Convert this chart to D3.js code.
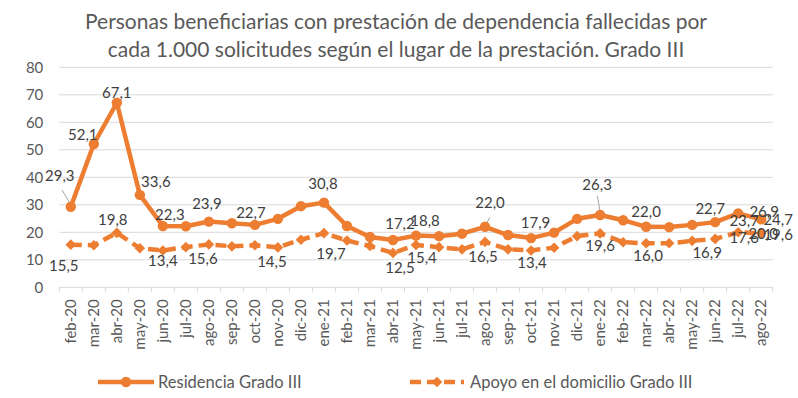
<!DOCTYPE html>
<html>
<head>
<meta charset="utf-8">
<script src="https://cdn.jsdelivr.net/npm/d3@7"></script>
<style>
  html, body { margin: 0; padding: 0; background: #fff; }
  svg { display: block; font-family: Lato, "Open Sans", sans-serif; }
</style>
</head>
<body>
<svg id="chart" width="798" height="398"></svg>
<script>
// Months (category axis)
const months = ["feb-20","mar-20","abr-20","may-20","jun-20","jul-20","ago-20","sep-20","oct-20","nov-20","dic-20",
  "ene-21","feb-21","mar-21","abr-21","may-21","jun-21","jul-21","ago-21","sep-21","oct-21","nov-21","dic-21",
  "ene-22","feb-22","mar-22","abr-22","may-22","jun-22","jul-22","ago-22"];

// Deaths per 1,000 applications — residential care, Grade III
const residencia = [29.3, 52.1, 67.1, 33.6, 22.3, 22.2, 23.9, 23.3, 22.7, 24.9, 29.5,
  30.8, 22.3, 18.3, 17.2, 18.8, 18.6, 19.5, 22.0, 19.0, 17.9, 19.9, 24.9,
  26.3, 24.4, 22.0, 21.9, 22.7, 23.7, 26.9, 24.7];

// Deaths per 1,000 applications — home support, Grade III
const apoyo = [15.5, 15.3, 19.8, 14.2, 13.4, 14.6, 15.6, 14.9, 15.3, 14.5, 17.3,
  19.7, 17.0, 15.0, 12.5, 15.4, 14.6, 13.8, 16.5, 13.8, 13.4, 14.4, 18.6,
  19.6, 16.4, 16.0, 16.0, 16.9, 17.6, 20.0, 19.6];

const yTicks = [0, 10, 20, 30, 40, 50, 60, 70, 80];

const seriesNames = ["Residencia Grado III", "Apoyo en el domicilio Grado III"];
const titleLines = ["Personas beneficiarias con prestación de dependencia fallecidas por",
  "cada 1.000  solicitudes según el lugar de la prestación. Grado III"];

// Which points carry a value label, and where the label sits relative to its point
const resLabelPos = [
  {i: 0, dx: -11, dy: -26, lead: [-8.8, -16.7, -0.3, -2.7]},
  {i: 1, dx: -11, dy: -4}, {i: 2, dx: 0, dy: -5}, {i: 3, dx: 16, dy: -8},
  {i: 4, dx: 7, dy: -6}, {i: 6, dx: -2, dy: -12.6}, {i: 8, dx: -4, dy: -6.6},
  {i: 11, dx: -1, dy: -14}, {i: 14, dx: 7, dy: -11}, {i: 15, dx: 9, dy: -10},
  {i: 18, dx: 5, dy: -19, lead: [4.4, -9.5, 1.1, -1.8]}, {i: 20, dx: 4.5, dy: -10},
  {i: 23, dx: -3, dy: -25, lead: [-2.7, -19, 0, -3.3]}, {i: 25, dx: 0, dy: -9.5},
  {i: 27, dx: 18, dy: -11}, {i: 28, dx: 29, dy: 3.6}, {i: 29, dx: 26, dy: 3.4}, {i: 30, dx: 17, dy: 6}
];
const apoLabelPos = [
  {i: 0, dx: -7, dy: 26}, {i: 2, dx: -4, dy: -8}, {i: 4, dx: 0, dy: 16},
  {i: 6, dx: -6, dy: 20}, {i: 9, dx: -6, dy: 20}, {i: 11, dx: 7, dy: 26},
  {i: 14, dx: 7, dy: 20}, {i: 15, dx: 6, dy: 18}, {i: 18, dx: -2, dy: 20},
  {i: 20, dx: 1, dy: 18}, {i: 23, dx: 0, dy: 18}, {i: 25, dx: 2, dy: 18},
  {i: 27, dx: 15, dy: 17.5}, {i: 28, dx: 29, dy: 4.4}, {i: 29, dx: 25, dy: 7}, {i: 30, dx: 17, dy: 6.6}
];

const ORANGE = "#ED7D31";
const GRID = "#D9D9D9";
const AXIS_TEXT = "#595959";
const LABEL_TEXT = "#404040";

const svg = d3.select("#chart");
const plot = {left: 59.3, right: 772.7, top: 67.3, bottom: 287.3};

const x = d3.scaleBand().domain(months).range([plot.left, plot.right]).padding(0);
const y = d3.scaleLinear().domain([0, 80]).range([plot.bottom, plot.top]);
const cx = m => x(m) + x.bandwidth() / 2;

// Title
svg.append("g").selectAll("text").data(titleLines).join("text")
  .attr("x", 396).attr("y", (d, i) => 29.3 + i * 28)
  .attr("text-anchor", "middle")
  .attr("font-size", 21).attr("fill", AXIS_TEXT)
  .text(d => d);

// Horizontal gridlines
svg.append("g").selectAll("line").data(yTicks.filter(t => t > 0)).join("line")
  .attr("x1", plot.left).attr("x2", plot.right)
  .attr("y1", d => y(d)).attr("y2", d => y(d))
  .attr("stroke", GRID).attr("stroke-width", 1);

// Y axis labels
const yAxis = d3.axisLeft(y).tickValues(yTicks).tickSize(0).tickPadding(0).tickFormat(d3.format("d"));
const gy = svg.append("g").attr("transform", `translate(${plot.left - 16},0)`).call(yAxis);
gy.select(".domain").remove();
gy.selectAll("text").attr("font-size", 15).attr("fill", AXIS_TEXT)
  .attr("font-family", "Lato, 'Open Sans', sans-serif");

// X axis: baseline, boundary ticks and rotated month labels
svg.append("line")
  .attr("x1", plot.left).attr("x2", plot.right)
  .attr("y1", plot.bottom).attr("y2", plot.bottom)
  .attr("stroke", GRID).attr("stroke-width", 1);
const bounds = months.map(m => x(m)).concat([plot.right]);
svg.append("g").selectAll("line").data(bounds).join("line")
  .attr("x1", d => d).attr("x2", d => d)
  .attr("y1", plot.bottom).attr("y2", plot.bottom + 5)
  .attr("stroke", GRID).attr("stroke-width", 1);
svg.append("g").selectAll("text").data(months).join("text")
  .attr("transform", d => `translate(${cx(d)},${plot.bottom + 12}) rotate(-90)`)
  .attr("text-anchor", "end").attr("dy", "0.35em")
  .attr("font-size", 15).attr("fill", AXIS_TEXT)
  .text(d => d);

// Series lines
const line = d3.line().x((d, i) => cx(months[i])).y(d => y(d));
svg.append("path").datum(apoyo)
  .attr("d", line).attr("fill", "none")
  .attr("stroke", ORANGE).attr("stroke-width", 4.5)
  .attr("stroke-dasharray", "11,6").attr("stroke-linejoin", "round");
svg.append("path").datum(residencia)
  .attr("d", line).attr("fill", "none")
  .attr("stroke", ORANGE).attr("stroke-width", 4.5).attr("stroke-linejoin", "round");

// Leader lines for detached labels
svg.append("g").selectAll("line").data(resLabelPos.filter(p => p.lead)).join("line")
  .attr("x1", p => cx(months[p.i]) + p.lead[0]).attr("y1", p => y(residencia[p.i]) + p.lead[1])
  .attr("x2", p => cx(months[p.i]) + p.lead[2]).attr("y2", p => y(residencia[p.i]) + p.lead[3])
  .attr("stroke", "#A6A6A6").attr("stroke-width", 1);

// Markers
const diamond = d3.symbol().type(d3.symbolDiamond2).size(72);
svg.append("g").selectAll("path").data(apoyo).join("path")
  .attr("transform", (d, i) => `translate(${cx(months[i])},${y(d)})`)
  .attr("d", diamond).attr("fill", ORANGE);
svg.append("g").selectAll("circle").data(residencia).join("circle")
  .attr("cx", (d, i) => cx(months[i])).attr("cy", d => y(d))
  .attr("r", 5.2).attr("fill", ORANGE);

// Value labels
const fmt = v => d3.format(".1f")(v).replace(".", ",");
function drawLabels(values, positions) {
  svg.append("g").selectAll("text").data(positions).join("text")
    .attr("x", p => cx(months[p.i]) + p.dx)
    .attr("y", p => y(values[p.i]) + p.dy)
    .attr("text-anchor", "middle")
    .attr("font-size", 15).attr("fill", LABEL_TEXT)
    .text(p => fmt(values[p.i]));
}
drawLabels(residencia, resLabelPos);
drawLabels(apoyo, apoLabelPos);

// Legend
const legY = 382;
const leg = svg.append("g");
leg.append("line").attr("x1", 98).attr("x2", 154).attr("y1", legY).attr("y2", legY)
  .attr("stroke", ORANGE).attr("stroke-width", 4.5);
leg.append("circle").attr("cx", 126).attr("cy", legY).attr("r", 5.2).attr("fill", ORANGE);
leg.append("text").attr("x", 158).attr("y", legY).attr("dy", "0.35em")
  .attr("font-size", 16.5).attr("fill", AXIS_TEXT).text(seriesNames[0]);

leg.append("line").attr("x1", 410).attr("x2", 464).attr("y1", legY).attr("y2", legY)
  .attr("stroke", ORANGE).attr("stroke-width", 4.5).attr("stroke-dasharray", "11,6");
leg.append("path").attr("transform", `translate(437,${legY})`).attr("d", diamond).attr("fill", ORANGE);
leg.append("text").attr("x", 470).attr("y", legY).attr("dy", "0.35em")
  .attr("font-size", 16.5).attr("fill", AXIS_TEXT).text(seriesNames[1]);
</script>
</body>
</html>
